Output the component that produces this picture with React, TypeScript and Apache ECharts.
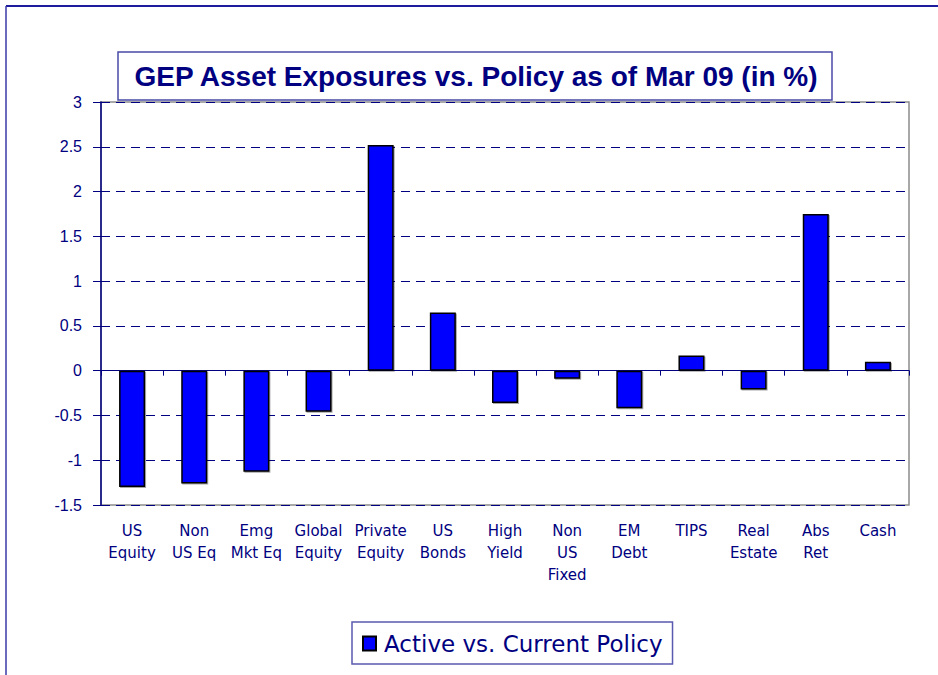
import React, { useEffect, useRef } from "react";
import * as echarts from "echarts";

const categories = [
  "US\nEquity",
  "Non\nUS Eq",
  "Emg\nMkt Eq",
  "Global\nEquity",
  "Private\nEquity",
  "US\nBonds",
  "High\nYield",
  "Non\nUS\nFixed",
  "EM\nDebt",
  "TIPS",
  "Real\nEstate",
  "Abs\nRet",
  "Cash",
];
const activeVsPolicy = [-1.3, -1.26, -1.13, -0.46, 2.52, 0.65, -0.36, -0.09, -0.42, 0.17, -0.21, 1.75, 0.1];
const seriesName = "Active vs. Current Policy";
const titleText = "GEP Asset Exposures vs. Policy as of Mar 09 (in %)";

const NAVY = "#000080";

export default function App() {
  const ref = useRef<HTMLDivElement>(null);
  useEffect(() => {
    if (!ref.current) return;
    const chart = echarts.init(ref.current, undefined, { renderer: "svg" });
    chart.setOption({
      animation: false,
      backgroundColor: "#ffffff",
      grid: {
        left: 101,
        right: 29,
        top: 102,
        bottom: 170,
        show: true,
        borderColor: "#8c8c8c",
        borderWidth: 1.5,
        backgroundColor: "transparent",
      },
      legend: {
        data: [seriesName],
        left: 352,
        top: 622,
        padding: [10, 10, 9, 10],
        borderColor: "#5a5ab0",
        borderWidth: 1.5,
        itemWidth: 13,
        itemHeight: 14,
        itemGap: 0,
        icon: "rect",
        textStyle: {
          color: NAVY,
          fontSize: 23,
          fontFamily: "DejaVu Sans, Verdana, sans-serif",
          padding: [0, 0, 0, 3],
        },
      },
      xAxis: [
        {
          type: "category",
          data: categories,
          position: "bottom",
          axisLine: { show: false, onZero: false },
          axisTick: { show: false },
          axisLabel: {
            color: NAVY,
            fontSize: 15,
            lineHeight: 22,
            margin: 15,
            interval: 0,
            fontFamily: "DejaVu Sans, Verdana, sans-serif",
          },
          splitLine: { show: false },
        },
        {
          type: "category",
          data: categories,
          position: "top",
          axisLine: { show: true, onZero: true, lineStyle: { color: NAVY, width: 1 } },
          axisTick: { show: true, inside: true, length: 5, lineStyle: { color: NAVY, width: 1 } },
          axisLabel: { show: false },
          splitLine: { show: false },
        },
      ],
      yAxis: {
        type: "value",
        min: -1.5,
        max: 3,
        interval: 0.5,
        axisLine: { show: true, lineStyle: { color: NAVY, width: 1.5 } },
        axisTick: { show: true, length: 8, lineStyle: { color: NAVY, width: 1 } },
        axisLabel: {
          color: NAVY,
          fontSize: 16,
          margin: 19,
          fontFamily: "Liberation Sans, Arial, sans-serif",
        },
        splitLine: {
          show: true,
          lineStyle: { color: NAVY, type: [9, 6], width: 1 },
        },
      },
      series: [
        {
          name: seriesName,
          type: "bar",
          xAxisIndex: 0,
          data: activeVsPolicy,
          barWidth: 26,
          itemStyle: {
            color: "#0000ff",
            borderColor: "#000000",
            borderWidth: 1.5,
            shadowColor: "rgba(0,0,0,0.35)",
            shadowOffsetX: 1,
            shadowOffsetY: 1,
            shadowBlur: 1,
          },
        },
      ],
      graphic: [
        {
          type: "line",
          shape: { x1: 6, y1: 6, x2: 938, y2: 6 },
          style: { stroke: "#1c1c9c", lineWidth: 2 },
        },
        {
          type: "line",
          shape: { x1: 6, y1: 6, x2: 6, y2: 675 },
          style: { stroke: "#3a3aa8", lineWidth: 1.5 },
        },
        {
          type: "rect",
          shape: { x: 118, y: 52, width: 714, height: 48 },
          style: { fill: "transparent", stroke: "#4a4aa6", lineWidth: 1.5 },
        },
        {
          type: "text",
          x: 476,
          y: 76,
          style: {
            text: titleText,
            fill: NAVY,
            font: "bold 28px 'Liberation Sans', Arial, sans-serif",
            align: "center",
            verticalAlign: "middle",
          },
        },
      ],
    });
    return () => chart.dispose();
  }, []);
  return (
    <div
      ref={ref}
      style={{ position: "fixed", left: 0, top: 0, width: 938, height: 675, background: "#fff" }}
    />
  );
}
